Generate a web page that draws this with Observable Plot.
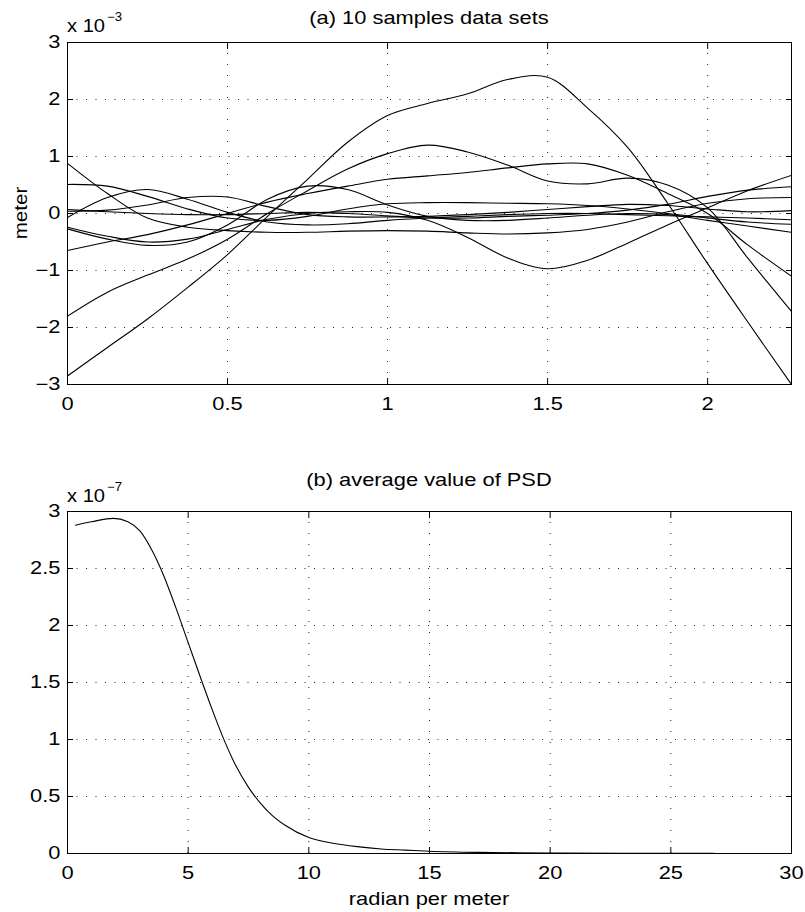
<!DOCTYPE html>
<html><head><meta charset="utf-8">
<script src="https://cdn.jsdelivr.net/npm/d3@7"></script>
<script src="https://cdn.jsdelivr.net/npm/@observablehq/plot@0.6"></script>
<style>
body{margin:0;background:#fff}
#wrap{position:relative;width:805px;height:912px;font-family:"Liberation Sans",Arial,sans-serif}
.panel{position:absolute;left:0}
#overlay{position:absolute;left:0;top:0;pointer-events:none}
</style>
</head><body><div id="wrap"></div>
<script>
// ---- panel (a): 10 sample data sets (values x 10^-3 m) ----
const xs = [0,0.125,0.25,0.375,0.5,0.625,0.75,0.875,1,1.125,1.25,1.375,1.5,1.625,1.75,1.875,2,2.125,2.262];
const s1  = [-2.85,-2.35,-1.85,-1.3,-0.72,-0.05,0.6,1.25,1.72,1.93,2.1,2.35,2.39,1.85,1.16,0.18,-0.88,-1.9,-3.0];
const s2  = [-1.8,-1.38,-1.08,-0.8,-0.45,0.0,0.4,0.78,1.05,1.2,1.08,0.85,0.57,0.52,0.62,0.5,0.1,-0.78,-1.72];
const s3  = [-0.65,-0.5,-0.37,-0.2,0.0,0.2,0.35,0.48,0.6,0.66,0.72,0.8,0.87,0.87,0.67,0.35,0.0,-0.55,-1.1];
const s4  = [-0.24,-0.4,-0.5,-0.45,-0.28,-0.1,0.0,0.03,0.02,-0.12,-0.42,-0.78,-0.97,-0.82,-0.52,-0.2,0.1,0.4,0.67];
const s5  = [0.88,0.35,-0.08,-0.24,-0.3,-0.33,-0.33,-0.31,-0.3,-0.31,-0.34,-0.36,-0.34,-0.28,-0.15,0.03,0.18,0.26,0.28];
const s6  = [0.51,0.48,0.3,0.08,-0.08,-0.12,-0.05,0.08,0.17,0.19,0.19,0.18,0.17,0.14,0.08,0.0,-0.08,-0.15,-0.19];
const s7  = [-0.07,0.28,0.42,0.25,0.02,-0.15,-0.2,-0.18,-0.12,-0.08,-0.05,-0.02,0.0,0.0,-0.02,-0.04,-0.06,-0.08,-0.11];
const s8  = [0.04,0.06,0.15,0.28,0.29,0.12,-0.02,-0.06,-0.06,-0.05,-0.02,0.02,0.07,0.12,0.16,0.14,0.08,0.03,0.05];
const s9  = [-0.27,-0.45,-0.56,-0.5,-0.2,0.25,0.48,0.42,0.15,-0.05,-0.12,-0.12,-0.08,-0.03,0.0,-0.02,-0.12,-0.22,-0.33];
const s10 = [0.07,0.03,0.0,-0.02,-0.02,0.0,0.02,0.0,-0.04,-0.08,-0.08,-0.05,-0.03,0.0,0.06,0.16,0.3,0.41,0.47];
const seriesA = [s1,s2,s3,s4,s5,s6,s7,s8,s9,s10];
const xTicksA = [0,0.5,1,1.5,2];
const yTicksA = [-3,-2,-1,0,1,2,3];

// ---- panel (b): average PSD (values x 10^-7) ----
const psdX = [0.33,1,1.9,2.5,3,3.5,4,4.5,5,5.5,6,6.5,7,7.5,8,8.5,9,10,11,12,13,14,15,17,20,23,26.8];
const psdY = [2.88,2.91,2.94,2.91,2.83,2.66,2.43,2.15,1.85,1.55,1.26,0.99,0.76,0.58,0.44,0.33,0.25,0.14,0.09,0.06,0.04,0.03,0.02,0.01,0.005,0.002,0.001];
const xTicksB = [0,5,10,15,20,25,30];
const yTicksB = [0,0.5,1,1.5,2,2.5,3];

const FONT = '"Liberation Sans", Arial, sans-serif';
const SX = 1.25;
const fmt = d => d < 0 ? "\u2212" + (-d) : String(d);

function gridMarks(xT, yT) {
  return [
    Plot.gridX(xT, {stroke: "#222", strokeOpacity: 1, strokeDasharray: "1,10"}),
    Plot.gridY(yT, {stroke: "#222", strokeOpacity: 1, strokeDasharray: "1,8.5"})
  ];
}
function axisMarks(xT, yT) {
  return [
    Plot.axisX(xT, {anchor: "bottom", tickSize: -6, tickPadding: 19, tickFormat: fmt, label: null}),
    Plot.axisX(xT, {anchor: "top", tickSize: -6, tickFormat: () => "", label: null}),
    Plot.axisY(yT, {anchor: "left", tickSize: -6, tickPadding: 13, tickFormat: fmt, label: null}),
    Plot.axisY(yT, {anchor: "right", tickSize: -6, tickFormat: () => "", label: null}),
    Plot.frame({stroke: "black", strokeWidth: 1})
  ];
}
function stretch(svg, sx) {
  svg.querySelectorAll("text").forEach(t => {
    const tr = t.getAttribute("transform");
    if (tr) t.setAttribute("transform", tr + ` scale(${sx},1)`);
    else {
      const x = +t.getAttribute("x") || 0, y = +t.getAttribute("y") || 0;
      t.setAttribute("transform", `translate(${x},${y}) scale(${sx},1) translate(${-x},${-y})`);
    }
  });
}

const rowsA = seriesA.flatMap((s, k) => s.map((v, i) => ({id: k, x: xs[i], y: v})));
const rowsB = psdX.map((x, i) => ({x, y: psdY[i]}));

const style = {fontFamily: FONT, fontSize: "17.5px", color: "black", background: "transparent"};

const plotA = Plot.plot({
  width: 805, height: 440,
  marginTop: 42, marginBottom: 56, marginLeft: 67, marginRight: 14,
  x: {domain: [0, 2.262]}, y: {domain: [-3, 3]},
  style,
  marks: [
    ...gridMarks(xTicksA, yTicksA),
    Plot.line(rowsA, {x: "x", y: "y", z: "id", stroke: "black", strokeWidth: 1.1, curve: "catmull-rom", clip: true}),
    ...axisMarks(xTicksA, yTicksA)
  ]
});
const plotB = Plot.plot({
  width: 805, height: 472,
  marginTop: 71, marginBottom: 59, marginLeft: 67, marginRight: 14,
  x: {domain: [0, 30]}, y: {domain: [0, 3]},
  style,
  marks: [
    ...gridMarks(xTicksB, yTicksB),
    Plot.line(rowsB, {x: "x", y: "y", stroke: "black", strokeWidth: 1.1, curve: "monotone-x", clip: true}),
    ...axisMarks(xTicksB, yTicksB)
  ]
});
stretch(plotA, SX); stretch(plotB, SX);
plotA.classList.add("panel"); plotA.style.top = "0px";
plotB.classList.add("panel"); plotB.style.top = "440px";
const wrap = document.getElementById("wrap");
wrap.appendChild(plotA); wrap.appendChild(plotB);

// titles, multipliers and axis labels
const T = (x, y, txt, size, anchor, sx = SX) =>
  `<text transform="translate(${x},${y}) scale(${sx},1)" font-size="${size}" text-anchor="${anchor}">${txt}</text>`;
const overlay = `<svg id="overlay" width="805" height="912" font-family='${FONT}' fill="black">
${T(429, 24, "(a) 10 samples data sets", 17.5, "middle")}
${T(67, 32, "x 10", 17.5, "start", 1.15)}
${T(107, 21, "\u22123", 12, "start", 1.1)}
<text transform="translate(27,213) rotate(-90) scale(1.18,1)" font-size="17.5" text-anchor="middle">meter</text>
${T(429, 486, "(b) average value of PSD", 17.5, "middle")}
${T(67, 502, "x 10", 17.5, "start", 1.15)}
${T(107, 491, "\u22127", 12, "start", 1.1)}
${T(429, 905, "radian per meter", 17.5, "middle")}
</svg>`;
wrap.insertAdjacentHTML("beforeend", overlay);
</script>
</body></html>
